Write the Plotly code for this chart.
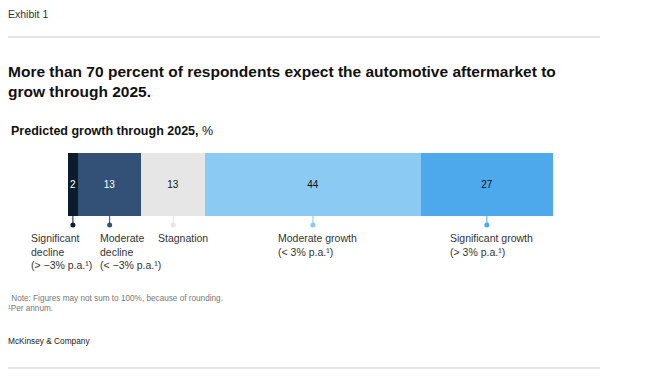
import plotly.graph_objects as go

# ---- data ----
categories = ["Significant decline", "Moderate decline", "Stagnation", "Moderate growth", "Significant growth"]
values = [2, 13, 13, 44, 27]
label_texts = [
    "Significant<br>decline<br>(> −3% p.a.¹)",
    "Moderate<br>decline<br>(< −3% p.a.¹)",
    "Stagnation",
    "Moderate growth<br>(< 3% p.a.¹)",
    "Significant growth<br>(> 3% p.a.¹)",
]

# ---- style ----
colors = ["#0B1C2A", "#335077", "#E6E6E6", "#8BCAF3", "#4DA8EC"]
value_colors = ["white", "white", "#111111", "#111111", "#111111"]
label_xshift = [-44, -12, -17, -37, -39]

OFF = 8  # page body margin
W, H = 668 - OFF, 382 - OFF
FONT = "Liberation Sans"

def px_x(x):
    return (x - OFF) / W

def py(y):  # pixel y (screen) -> paper y
    return 1 - (y - OFF) / H

bar_top, bar_bot, dot_px = 153, 216, 225
axis_bottom = 232
unit = (bar_bot - bar_top)
y_lo = 0.5 - (axis_bottom - bar_top) / unit
dot_y = -0.5 - (dot_px - bar_bot) / unit

fig = go.Figure()
cum = 0
centers = []
for cat, v, c, tc in zip(categories, values, colors, value_colors):
    fig.add_trace(go.Bar(
        y=[0], x=[v], base=[cum], orientation="h", width=1,
        marker=dict(color=c, line=dict(width=0)),
        text=[str(v)], textposition="inside", insidetextanchor="middle",
        textangle=0, textfont=dict(family=FONT, size=10, color=tc),
        hoverinfo="skip", name=cat, showlegend=False,
    ))
    centers.append(cum + v / 2)
    cum += v

for cx, c in zip(centers, colors):
    fig.add_trace(go.Scatter(
        x=[cx, cx], y=[-0.5, dot_y], mode="lines",
        line=dict(color=c, width=1), hoverinfo="skip", showlegend=False,
    ))
    fig.add_trace(go.Scatter(
        x=[cx], y=[dot_y], mode="markers",
        marker=dict(color=c, size=5), hoverinfo="skip", showlegend=False,
    ))

annotations = []
for cx, txt_, dx in zip(centers, label_texts, label_xshift):
    annotations.append(dict(
        x=cx, xref="x", y=py(230), yref="paper", xanchor="left", yanchor="top",
        xshift=dx, text=txt_, showarrow=False, align="left",
        font=dict(family=FONT, size=10.5, color="#333333"),
    ))

def txt(x, y, text, size, color="#222222"):
    annotations.append(dict(x=px_x(x), y=py(y), xref="paper", yref="paper",
                            xanchor="left", yanchor="middle", text=text, showarrow=False,
                            align="left", font=dict(family=FONT, size=size, color=color)))

txt(6, 14, "Exhibit 1", 10.5, "#333333")
txt(6, 81, "<b>More than 70 percent of respondents expect the automotive aftermarket to<br>grow through 2025.</b>", 15.5, "#111111")
txt(9, 131, "<b>Predicted growth through 2025,</b> %", 12.5, "#111111")
txt(7, 298, " Note: Figures may not sum to 100%, because of rounding.", 8.2, "#777777")
txt(6, 308, "¹Per annum.", 8.2, "#777777")
txt(6, 341, "McKinsey & Company", 8.3, "#222222")

shapes = [
    dict(type="line", xref="paper", yref="paper", x0=px_x(8), x1=px_x(600), y0=py(37), y1=py(37),
         line=dict(color="#CCCCCC", width=1)),
    dict(type="line", xref="paper", yref="paper", x0=px_x(8), x1=px_x(600), y0=py(368), y1=py(368),
         line=dict(color="#CCCCCC", width=1)),
]

fig.update_layout(
    width=W, height=H, margin=dict(l=0, r=0, t=0, b=0),
    paper_bgcolor="white", plot_bgcolor="white",
    barmode="overlay", bargap=0,
    xaxis=dict(domain=[px_x(68), px_x(553)], range=[0, sum(values)], visible=False, fixedrange=True),
    yaxis=dict(domain=[py(axis_bottom), py(bar_top)], range=[y_lo, 0.5], visible=False, fixedrange=True),
    annotations=annotations, shapes=shapes,
    uniformtext=dict(minsize=10, mode="show"),
)

fig.write_html("out.html")
